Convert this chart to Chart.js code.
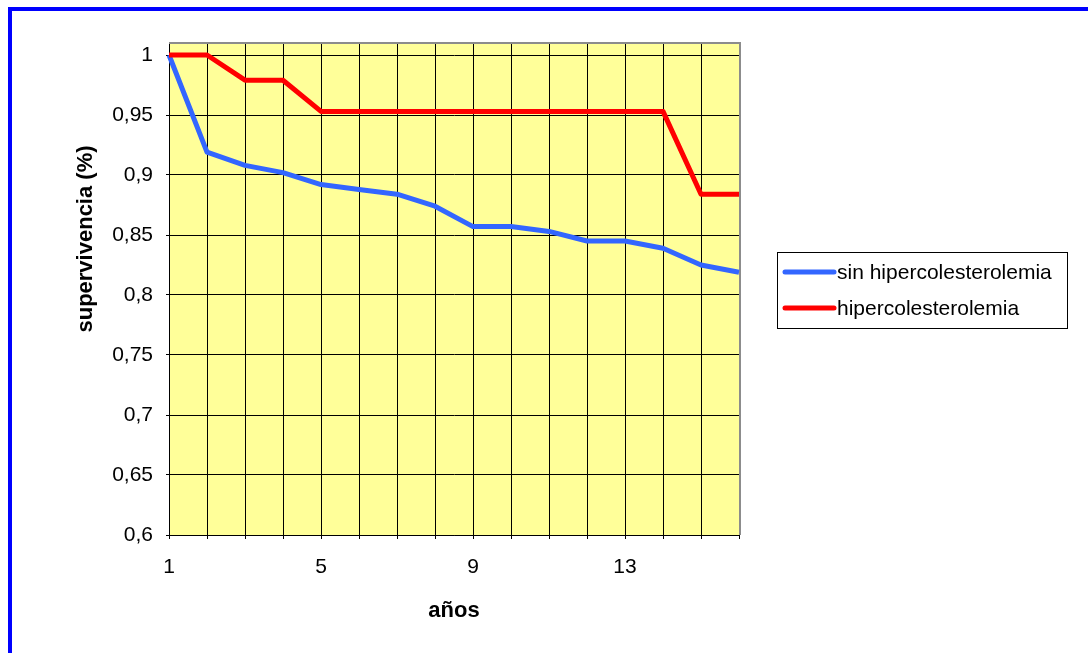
<!DOCTYPE html>
<html lang="es">
<head>
<meta charset="utf-8">
<script src="https://cdn.jsdelivr.net/npm/chart.js"></script>
<style>
  html, body { margin: 0; padding: 0; width: 1088px; height: 653px; overflow: hidden; background: #fff; }
  .marco { position: absolute; left: 8px; top: 7px; width: 1200px; height: 800px; border: 4px solid #0000ff; }
  #grafico { position: absolute; left: 0; top: 0; }
</style>
</head>
<body>
<div class="marco"></div>
<canvas id="grafico" width="1088" height="653"></canvas>
<script>
// datos
const anos = ['1','2','3','4','5','6','7','8','9','10','11','12','13','14','15','16'];
const sinHiper = [1.0, 0.919, 0.908, 0.902, 0.892, 0.888, 0.884, 0.874, 0.857, 0.857, 0.853, 0.845, 0.845, 0.839, 0.825, 0.819];
const hiper    = [1.0, 1.0, 0.979, 0.979, 0.953, 0.953, 0.953, 0.953, 0.953, 0.953, 0.953, 0.953, 0.953, 0.953, 0.884, 0.884];
const etiquetasX = ['1', '5', '9', '13'];

const fuente = 'Liberation Sans, Arial, sans-serif';

// fondo amarillo y borde gris del area de trazado
const fondo = {
  id: 'fondo',
  beforeDraw(chart) {
    const a = chart.chartArea, ctx = chart.ctx;
    ctx.save();
    ctx.fillStyle = '#ffff99';
    ctx.fillRect(a.left, a.top, a.right - a.left, a.bottom - a.top);
    ctx.restore();
  },
  beforeDatasetsDraw(chart) {
    const a = chart.chartArea, ctx = chart.ctx;
    ctx.save();
    ctx.strokeStyle = '#8c8c8c';
    ctx.lineWidth = 2;
    ctx.beginPath();
    ctx.moveTo(a.left, a.top);
    ctx.lineTo(a.right + 1, a.top);
    ctx.lineTo(a.right + 1, a.bottom);
    ctx.stroke();
    ctx.restore();
  }
};

// titulo del eje y y leyenda con recuadro
const extras = {
  id: 'extras',
  afterDraw(chart) {
    const a = chart.chartArea, ctx = chart.ctx;
    ctx.save();
    ctx.fillStyle = '#000';
    ctx.font = 'bold 22px ' + fuente;
    ctx.textAlign = 'center';
    ctx.textBaseline = 'middle';
    ctx.translate(86, 239);
    ctx.rotate(-Math.PI / 2);
    ctx.fillText('supervivencia (%)', 0, 0);
    ctx.restore();

    const x0 = a.right + 38, y0 = 252, w = 290, h = 76;
    ctx.save();
    ctx.strokeStyle = '#000';
    ctx.lineWidth = 1;
    ctx.strokeRect(x0 + 0.5, y0 + 0.5, w, h);
    ctx.font = '21px ' + fuente;
    ctx.textBaseline = 'middle';
    chart.data.datasets.forEach((ds, i) => {
      const y = y0 + 20 + i * 36;
      ctx.strokeStyle = ds.borderColor;
      ctx.lineWidth = 5;
      ctx.lineCap = 'round';
      ctx.beginPath();
      ctx.moveTo(x0 + 8, y);
      ctx.lineTo(x0 + 57, y);
      ctx.stroke();
      ctx.fillStyle = '#000';
      ctx.fillText(ds.label, x0 + 60, y + 1);
    });
    ctx.restore();
  }
};

new Chart(document.getElementById('grafico'), {
  type: 'line',
  data: {
    labels: anos,
    datasets: [
      { label: 'sin hipercolesterolemia', data: sinHiper, borderColor: '#3366ff', borderWidth: 5, order: 1 },
      { label: 'hipercolesterolemia', data: hiper, borderColor: '#ff0000', borderWidth: 5, order: 0 }
    ]
  },
  options: {
    responsive: false,
    animation: false,
    layout: { padding: { left: 0, top: 43, right: 349, bottom: 0 } },
    elements: { point: { radius: 0 }, line: { tension: 0, borderJoinStyle: 'round' } },
    plugins: { legend: { display: false }, tooltip: { enabled: false } },
    scales: {
      x: {
        offset: false,
        afterFit(s) { s.height = 118; },
        grid: { color: '#000', lineWidth: 1, tickLength: 4 },
        border: { color: '#000', width: 1 },
        ticks: {
          autoSkip: false, maxRotation: 0, padding: 16, color: '#000',
          font: { family: fuente, size: 21 },
          callback(v, i) { return etiquetasX.includes(anos[i]) ? anos[i] : ''; }
        },
        title: { display: true, text: 'años', color: '#000', font: { family: fuente, size: 22, weight: 'bold' }, padding: { top: 0, bottom: 29 } }
      },
      y: {
        min: 0.6, max: 1.01,
        afterFit(s) { s.width = 169; },
        grid: { color: '#000', lineWidth: 1, tickLength: 3 },
        border: { color: '#000', width: 1 },
        ticks: {
          stepSize: 0.05, includeBounds: false, padding: 13, color: '#000',
          font: { family: fuente, size: 21 },
          callback(v) { return String(Math.round(v * 100) / 100).replace('.', ','); }
        }
      }
    }
  },
  plugins: [fondo, extras]
});
</script>
</body>
</html>
